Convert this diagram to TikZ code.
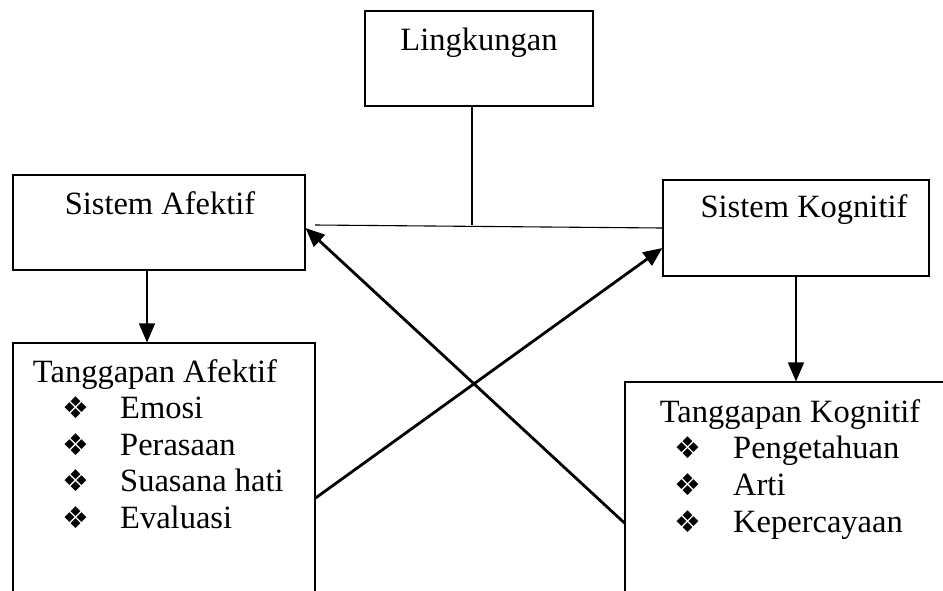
\documentclass[tikz,border=0pt]{standalone}
\usepackage{fontspec}
\setmainfont{Liberation Serif}
\newfontfamily\dingfont{DejaVu Sans}
\usetikzlibrary{arrows.meta}
\begin{document}
\begin{tikzpicture}[x=1pt,y=-1pt,
  box/.style={draw, line width=1.1pt, inner sep=0pt, rectangle},
  lbl/.style={font=\fontsize{32.5}{36}\selectfont, inner sep=0pt, anchor=base},
  item/.style={font=\fontsize{32.5}{36}\selectfont, inner sep=0pt, anchor=base west},
  bul/.style={font=\dingfont\fontsize{30}{30}\selectfont, inner sep=0pt, anchor=center},
  link/.style={line width=1.1pt},
  darr/.style={line width=1.1pt, -{Triangle[length=19pt,width=16pt]}},
  arr/.style={line width=2.8pt, -{Triangle[length=19pt,width=16pt]}},
]
\useasboundingbox (0,0) rectangle (943,590);
\clip (0,0) rectangle (943,590);

% boxes
\node[box, minimum width=228pt, minimum height=95pt] (ling) at (479,58.5) {};
\node[box, minimum width=292pt, minimum height=95pt] (sa) at (159,222.5) {};
\node[box, minimum width=266pt, minimum height=96pt] (sk) at (796,228) {};
\node[box, minimum width=302pt, minimum height=277pt] (ta) at (164,481.5) {};
\node[box, minimum width=355pt, minimum height=238pt] (tk) at (802.5,501) {};

% titles
\node[lbl] (lingt) at (479,50) {Lingkungan};
\node[lbl] (sat) at (160,214) {Sistem Afektif};
\node[lbl] (skt) at (804,217) {Sistem Kognitif};
\node[lbl] (tat) at (155,382) {Tanggapan Afektif};
\node[lbl] (tkt) at (790,422) {Tanggapan Kognitif};

% affective responses
\node[bul] (b1) at (76,408) {❖};
\node[item] (i1) at (120,418) {Emosi};
\node[bul] (b2) at (76,445) {❖};
\node[item] (i2) at (120,455) {Perasaan};
\node[bul] (b3) at (76,481) {❖};
\node[item] (i3) at (120,491) {Suasana hati};
\node[bul] (b4) at (76,518) {❖};
\node[item] (i4) at (120,528) {Evaluasi};

% cognitive responses
\node[bul] (c1) at (688,448) {❖};
\node[item] (j1) at (733,458) {Pengetahuan};
\node[bul] (c2) at (688,485) {❖};
\node[item] (j2) at (733,495) {Arti};
\node[bul] (c3) at (688,522) {❖};
\node[item] (j3) at (733,532) {Kepercayaan};

% environment link
\coordinate (hl) at (315,225);
\draw[link] (hl) -- (sk.west);
\draw[link] ([xshift=-7pt]ling.south) -- ([xshift=-7pt]ling.south |- hl);

% system to response
\draw[darr] ([xshift=-12pt]sa.south) -- ([xshift=-12pt]sa.south |- ta.north);
\draw[darr] (sk.south) -- (sk.south |- tk.north);

% cross feedback
\draw[arr] (ta.east |- 0,498) -- (sk.west |- 0,248);
\draw[arr] (tk.west |- 0,523) -- (sa.east |- 0,228);
\end{tikzpicture}
\end{document}
